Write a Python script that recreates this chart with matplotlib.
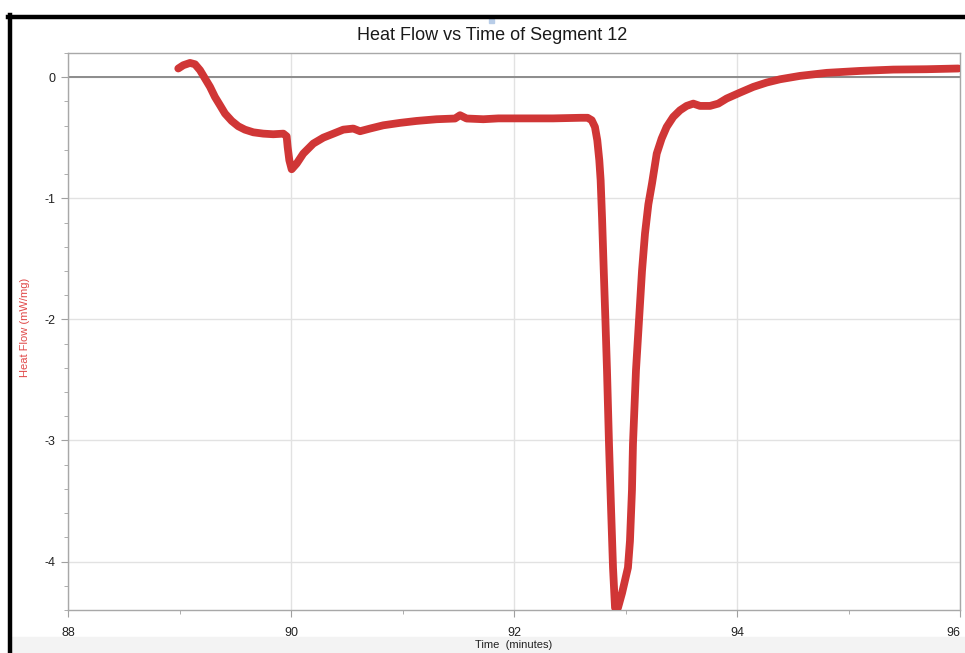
import matplotlib.pyplot as plt
from matplotlib.lines import Line2D
from matplotlib.patches import Rectangle

plt.rcParams['font.family'] = ['Liberation Sans', 'DejaVu Sans']

# heat flow trace of segment 12 (minutes, mW/mg)
time = [88.989, 89.034, 89.094, 89.139, 89.184, 89.229, 89.274, 89.318, 89.363,
        89.408, 89.468, 89.527, 89.587, 89.662, 89.752, 89.841, 89.931, 89.961,
        89.970, 89.985, 90.006, 90.051, 90.110, 90.200, 90.290, 90.380, 90.469,
        90.559, 90.619, 90.709, 90.828, 90.978, 91.127, 91.306, 91.471, 91.516,
        91.575, 91.725, 91.860, 92.100, 92.350, 92.600, 92.660, 92.697, 92.726,
        92.747, 92.765, 92.777, 92.790, 92.805, 92.820, 92.834, 92.852, 92.870,
        92.888, 92.906, 92.920, 92.933, 92.969, 93.022, 93.040, 93.058, 93.067,
        93.094, 93.121, 93.148, 93.175, 93.205, 93.238, 93.280, 93.324, 93.369,
        93.428, 93.489, 93.548, 93.608, 93.668, 93.758, 93.832, 93.907, 94.027,
        94.146, 94.266, 94.386, 94.565, 94.804, 95.103, 95.402, 95.701, 95.985]
heat = [0.072, 0.099, 0.118, 0.107, 0.058, -0.011, -0.080, -0.163, -0.231,
        -0.300, -0.361, -0.405, -0.433, -0.455, -0.466, -0.471, -0.466, -0.488,
        -0.576, -0.686, -0.760, -0.713, -0.631, -0.548, -0.499, -0.466, -0.433,
        -0.424, -0.446, -0.424, -0.397, -0.377, -0.361, -0.347, -0.341, -0.314,
        -0.341, -0.347, -0.340, -0.340, -0.340, -0.335, -0.335, -0.355, -0.411,
        -0.521, -0.686, -0.851, -1.17, -1.60, -2.01, -2.42, -3.03, -3.55,
        -4.05, -4.38, -4.40, -4.38, -4.26, -4.05, -3.83, -3.41, -3.03,
        -2.42, -2.01, -1.60, -1.29, -1.05, -0.876, -0.631, -0.507, -0.411,
        -0.328, -0.273, -0.237, -0.218, -0.237, -0.237, -0.218, -0.176, -0.127,
        -0.080, -0.044, -0.017, 0.011, 0.036, 0.052, 0.063, 0.066, 0.072]

x_ticks = [88, 90, 92, 94, 96]
y_ticks = [0, -1, -2, -3, -4]

fig = plt.figure(figsize=(9.65, 6.53), dpi=100)
ax = fig.add_axes([68 / 965, 1 - 610 / 653, 892 / 965, 557 / 653])

ax.plot(time, heat, color='#d03636', lw=5.6,
        solid_capstyle='round', solid_joinstyle='round', zorder=3)

ax.set_xlim(88, 96)
ax.set_ylim(-4.4, 0.2)
ax.set_xticks(x_ticks)
ax.set_xticklabels([str(t) for t in x_ticks])
ax.set_xticks([89, 91, 93, 95], minor=True)
ax.set_yticks(y_ticks)
ax.set_yticklabels([str(t) for t in y_ticks])
ax.set_yticks([v / 10 for v in range(-44, 3, 2) if v % 10 != 0], minor=True)

ax.grid(True, which='major', color='#e2e2e2', lw=1)
ax.axhline(0, color='#8c8c8c', lw=1.4, zorder=2)

for s in ax.spines.values():
    s.set_color('#a8a8a8')
    s.set_linewidth(1)

ax.tick_params(axis='both', which='major', direction='out', length=5,
               color='#a0a0a0', labelsize=9, labelcolor='#222222')
ax.tick_params(axis='both', which='minor', direction='out', length=3,
               color='#a0a0a0')
ax.tick_params(axis='x', pad=7)
ax.tick_params(axis='y', pad=4)
# last x label sits against the right edge
ax.get_xticklabels()[-1].set_horizontalalignment('right')

fig.text(492 / 965, 1 - 35 / 653, 'Heat Flow vs Time of Segment 12',
         ha='center', va='center', fontsize=13, color='#1a1a1a')
fig.text(25 / 965, 1 - 327 / 653, 'Heat Flow (mW/mg)', rotation=90,
         ha='center', va='center', fontsize=8, color='#e04848')

# window edge at the bottom and screen frame
fig.patches.append(Rectangle((12 / 965, 0), 1, 16 / 653, transform=fig.transFigure,
                             color='#f3f3f3', zorder=0))
fig.text(514 / 965, 1 - 645 / 653, 'Time  (minutes)',
         ha='center', va='center', fontsize=8, color='#222222')
fig.lines.append(Line2D([8 / 965, 1], [1 - 17 / 653, 1 - 17 / 653],
                        transform=fig.transFigure, color='black', lw=3.2))
fig.lines.append(Line2D([10 / 965, 10 / 965], [0, 1 - 15 / 653],
                        transform=fig.transFigure, color='black', lw=3.2))
fig.patches.append(Rectangle((489 / 965, 1 - 23 / 653), 5 / 965, 4 / 653,
                             transform=fig.transFigure, color='#b8cde8'))

fig.savefig('out.png', dpi=100)
